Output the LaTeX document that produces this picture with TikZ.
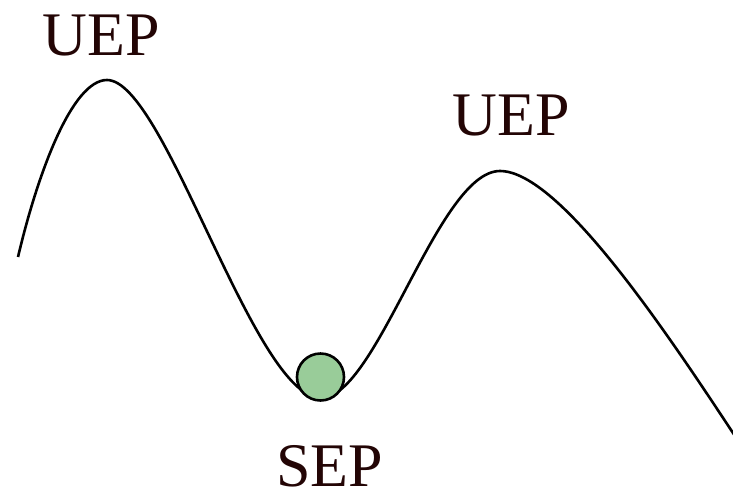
\documentclass[tikz,border=0pt]{standalone}
\usepackage{fontspec}
\setmainfont{Liberation Serif}
\definecolor{txtc}{RGB}{35,5,5}
\definecolor{ballc}{RGB}{153,204,153}
\begin{document}
\begin{tikzpicture}[x=1pt,y=-1pt,
  lbl/.style={text=txtc,font=\fontsize{62}{62}\selectfont,inner sep=0pt,anchor=base},
  curve/.style={line width=2.6pt,black},
  ball/.style={circle,draw=black,line width=2.6pt,fill=ballc,minimum size=47pt,inner sep=0pt}]
\useasboundingbox (0,0) rectangle (733,491);
\draw[curve] (18,257) .. controls (37.5,174) and (72,80) .. (107,80)
  .. controls (165,80) and (254,398) .. (321,398)
  .. controls (377,398) and (438,171) .. (500,171)
  .. controls (560,171) and (669,336) .. (735,436);
\node[ball] (sepball) at (320.5,377) {};
\node[lbl] (uep1) at (101.5,55) {UEP};
\node[lbl] (uep2) at (511,135) {UEP};
\node[lbl] (sep) at (329.5,486) {SEP};
\end{tikzpicture}
\end{document}
